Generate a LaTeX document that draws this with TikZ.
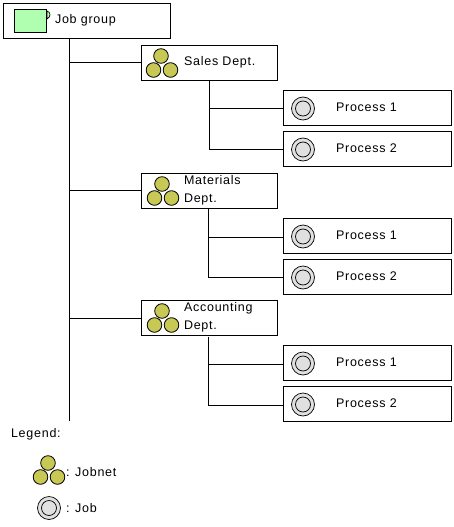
\documentclass[tikz,border=0pt]{standalone}
\usepackage{fontspec}
\setmainfont{Liberation Sans}[LetterSpace=6]
\tikzset{
  x=1pt,y=-1pt,
  bx/.style={draw=black,line width=1pt,fill=white,minimum height=35pt,inner sep=0pt,outer sep=0pt,anchor=north west},
  txt/.style={inner sep=0pt,outer sep=0pt,anchor=west,align=left,font=\fontsize{12.5}{17.5}\selectfont,text=black},
  lnk/.style={draw=black,line width=1pt},
  netc/.style={draw=black,line width=.8pt,fill=netcol},
  pics/jobnet/.style={code={
    \draw[netc] (0,-7) circle[radius=7.3];
    \draw[netc] (-7.5,7) circle[radius=7.3];
    \draw[netc] (9.5,7) circle[radius=7.3];
  }},
  pics/jobicon/.style={code={
    \draw[black,line width=.7pt,fill=jobcol] (0,0) circle[radius=11.5];
    \draw[black,line width=.7pt] (0,0) circle[radius=7.5];
  }}
}
\definecolor{netcol}{RGB}{200,200,85}
\definecolor{jobcol}{RGB}{224,224,224}
\definecolor{grpcol}{RGB}{176,255,176}
\begin{document}
\begin{tikzpicture}
\useasboundingbox (0,0) rectangle (454,527);
% tree
\coordinate (tend) at (69.5,421);
\node[bx,minimum width=167pt] (grp) at (3,3.5) {};
\node[bx,minimum width=136pt] (s) at (141.5,45.5) {};
\node[bx,minimum width=136pt] (m) at (141.5,173.5) {};
\node[bx,minimum width=136pt] (a) at (141.5,300.5) {};
\node[bx,minimum width=168pt] (s1) at (283.5,90.5) {};
\node[bx,minimum width=168pt] (s2) at (283.5,131.5) {};
\node[bx,minimum width=168pt] (m1) at (283.5,218.5) {};
\node[bx,minimum width=168pt] (m2) at (283.5,259.5) {};
\node[bx,minimum width=168pt] (a1) at (283.5,345.5) {};
\node[bx,minimum width=168pt] (a2) at (283.5,386.5) {};
\draw[lnk] (69.5,38.5) -- (tend);
\draw[lnk] (69.5,62.5) -- (s.west|-69.5,62.5);
\draw[lnk] (69.5,190.5) -- (m.west|-69.5,190.5);
\draw[lnk] (69.5,318.5) -- (a.west|-69.5,318.5);
\draw[lnk] (209.5,80.5) -- (209.5,149.5) -- (s2.west|-209.5,149.5);
\draw[lnk] (209.5,108.5) -- (s1.west|-209.5,108.5);
\draw[lnk] (208.5,208.5) -- (208.5,277.5) -- (m2.west|-208.5,277.5);
\draw[lnk] (208.5,237.5) -- (m1.west|-208.5,237.5);
\draw[lnk] (208.5,336.5) -- (208.5,405.5) -- (a2.west|-208.5,405.5);
\draw[lnk] (208.5,364.5) -- (a1.west|-208.5,364.5);
% group icon
\draw[black,line width=.7pt,fill=grpcol] (47,11) .. controls (51,12) and (51,17) .. (47,19) -- cycle;
\draw[black,line width=1pt,fill=grpcol] (14.5,9.5) rectangle (46.5,33);
% icons
\pic at (161,63) {jobnet};
\pic at (162,191) {jobnet};
\pic at (162,318) {jobnet};
\pic at (48,470) {jobnet};
\foreach \yy in {108.5,149.5,236.5,277.5,363.5,404.5} {\pic at (303,\yy) {jobicon};}
\pic at (49,508) {jobicon};
% text
\node[txt] (tg) at (55,20) {Job group};
\node[txt] (ts) at (184,62) {Sales Dept.};
\node[txt] (tm) at (184,190.5) {Materials\\Dept.};
\node[txt] (ta) at (184,317.5) {Accounting\\Dept.};
\foreach \nm/\yy/\lb in {p1/107/Process 1,p2/148/Process 2,p3/235/Process 1,p4/276/Process 2,p5/362/Process 1,p6/403/Process 2}
  {\node[txt] (\nm) at (336,\yy) {\lb};}
\node[txt] (lg) at (11,434) {Legend:};
\node[txt] (lj) at (66,472) {: Jobnet};
\node[txt] (lk) at (66,508) {: Job};
\end{tikzpicture}
\end{document}
